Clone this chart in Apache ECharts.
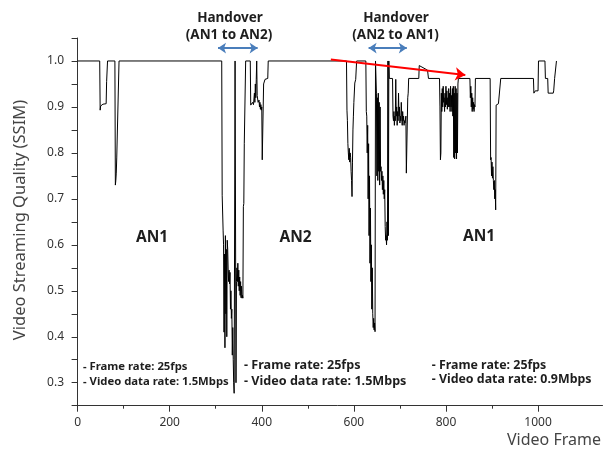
<!DOCTYPE html>
<html><head><meta charset="utf-8">
<script src="https://cdn.jsdelivr.net/npm/echarts@6/dist/echarts.min.js"></script>
<style>html,body{margin:0;padding:0;background:#fff}#c{width:605px;height:450px}</style>
</head><body><div id="c"></div>
<script>
// ---- data: [frame, SSIM] ----
const an1Start = [[0,1.0],[48,1.0],[49,0.893],[50,0.902],[52,0.904],[55,0.906],[58,0.905],[62,0.907],[63,0.955],[64,0.958],[65,1.0],[81,1.0],[82,0.73],[83,0.74],[84,0.756],[85,0.789],[89,0.79],[90,1.0],[313,1.0]];
const handover1 = [[314,0.708],[315,0.705],[316,0.632],[317,0.60],[318,0.41],[319,0.58],[320,0.376],[321,0.62],[322,0.45],[323,0.59],[324,0.40],[325,0.61],[326,0.59],[327,0.545],[328,0.52],[329,0.545],[330,0.515],[331,0.54],[332,0.46],[333,0.50],[334,0.44],[335,0.46],[336,0.36],[337,0.42],[338,0.35],[339,0.30],[340,0.277],[341,0.28],[342,1.0],[343,1.0],[344,0.30],[345,0.52],[346,0.55],[347,0.52],[348,0.56],[349,0.51],[350,0.545],[351,0.50],[352,0.53],[353,0.49],[354,0.52],[355,0.485],[356,0.51],[357,0.484],[358,0.49],[359,0.484],[360,0.683],[361,0.69],[362,0.821],[364,0.825],[365,1.0],[375,1.0],[376,0.904],[378,0.90],[380,0.91],[382,0.905],[384,0.93],[385,0.91],[386,0.95],[387,0.92],[388,0.96],[389,1.0],[390,0.925],[392,0.91],[394,0.915],[395,0.90],[396,0.91],[397,0.895],[398,0.905],[399,0.893],[400,0.90],[401,0.785],[403,0.786],[404,0.95],[406,0.952],[407,0.96],[413,0.962],[414,1.0]];
const an2Steady = [[584,1.0]];
const handover2 = [[585,0.893],[586,0.87],[587,0.82],[588,0.80],[589,0.785],[590,0.81],[591,0.78],[592,0.80],[593,0.79],[594,0.76],[595,0.74],[596,0.705],[597,0.78],[598,0.85],[599,0.88],[600,0.91],[602,0.952],[604,0.96],[606,1.0],[626,1.0],[627,0.89],[628,0.88],[629,0.80],[630,0.86],[631,0.70],[632,0.82],[633,0.62],[634,0.75],[635,0.56],[636,0.68],[637,0.52],[638,0.60],[639,0.46],[640,0.55],[641,0.45],[642,0.42],[643,0.44],[644,0.415],[645,0.43],[646,0.411],[647,1.0],[648,1.0],[649,0.93],[650,0.75],[651,0.92],[652,0.74],[653,0.93],[654,0.76],[655,0.91],[656,0.73],[657,0.90],[658,0.76],[659,0.77],[660,0.74],[661,0.76],[662,0.72],[663,0.75],[664,0.71],[665,0.74],[666,0.70],[667,0.72],[668,0.64],[669,0.61],[670,0.62],[671,0.60],[672,0.65],[673,0.61],[674,1.0],[675,0.62],[676,1.0]];
const an1Mid = [[677,0.962],[684,0.962],[685,0.88],[686,0.87],[687,0.89],[688,0.86],[689,0.88],[690,0.87],[691,0.96],[692,0.88],[693,0.90],[694,0.86],[695,0.89],[696,0.87],[697,0.93],[698,0.88],[699,0.90],[700,0.865],[701,0.88],[702,0.87],[703,0.91],[704,0.88],[705,0.86],[706,0.89],[707,0.87],[708,0.88],[709,0.86],[710,0.87],[711,0.865],[713,0.88],[714,0.756],[716,0.76],[717,0.92],[718,0.93],[719,0.962],[741,0.962],[742,0.99],[745,0.991],[760,0.98],[762,0.962]];
const an1Tail = [[786,0.962],[787,0.90],[788,0.785],[789,0.80],[790,0.93],[791,0.89],[792,0.94],[793,0.90],[794,0.945],[795,0.91],[796,0.92],[797,0.89],[798,0.93],[799,0.90],[800,0.945],[801,0.905],[802,0.935],[803,0.895],[804,0.92],[805,0.90],[806,0.94],[807,0.90],[808,0.93],[809,0.89],[810,0.945],[811,0.90],[812,0.925],[813,0.89],[814,0.94],[815,0.88],[816,0.945],[817,0.79],[818,0.93],[819,0.787],[820,0.945],[821,0.80],[822,0.94],[823,0.787],[824,0.93],[825,0.80],[826,0.95],[827,0.962],[852,0.962],[853,0.92],[854,0.945],[855,0.90],[856,0.93],[857,0.89],[858,0.92],[859,0.895],[860,0.91],[861,0.89],[862,0.905],[863,0.90],[864,0.962],[896,0.962],[897,0.785],[898,0.79],[899,0.75],[900,0.78],[901,0.745],[902,0.77],[903,0.74],[904,0.72],[905,0.74],[906,0.70],[907,0.72],[908,0.676],[909,0.904],[912,0.905],[914,0.907],[918,0.907],[919,0.962],[990,0.962],[991,0.93],[993,0.93],[994,0.935],[1000,0.935],[1001,1.0],[1015,1.0],[1016,0.962],[1021,0.962],[1022,0.93],[1033,0.93],[1034,0.935],[1036,0.962],[1039,0.962],[1040,1.0]];

const xLabelTicks = [0,200,400,600,800,1000];
const xMinorTicks = [100,300,500,700,900];
const yLabelTicks = [0.3,0.4,0.5,0.6,0.7,0.8,0.9,1.0];

// annotation arrows in data coordinates [frame, SSIM]
const handoverArrow1 = [[305,1.028],[391,1.028]];
const handoverArrow2 = [[632,1.028],[715,1.028]];
const qualityArrow = [[550,1.003],[842,0.9695]];

const ssimData = [].concat(an1Start, handover1, an2Steady, handover2, an1Mid, an1Tail);

const chart = echarts.init(document.getElementById('c'), null, {renderer:'canvas'});
const txt = '#1e1e1e';
const axisCol = '#333';
const boldFont = (s) => 'bold ' + s + 'px "Noto Sans", sans-serif';
chart.setOption({
  animation: false,
  backgroundColor: '#fff',
  grid: {left: 73, right: 2.5, top: 38, bottom: 44.3, containLabel: false},
  xAxis: [{
    type: 'value', min: -10, max: 1140,
    axisLine: {show: true, lineStyle: {color: axisCol, width: 1}},
    axisTick: {show: true, length: 6, inside: false, customValues: xLabelTicks, lineStyle: {color: axisCol}},
    axisLabel: {show: true, customValues: xLabelTicks, color: '#333', fontSize: 12, margin: 11, fontFamily: 'Noto Sans',
      formatter: function (v) { return String(Math.round(v)); }},
    splitLine: {show: false}
  }, {
    type: 'value', min: -10, max: 1140, position: 'bottom',
    axisLine: {show: false},
    axisTick: {show: true, length: 3, customValues: xMinorTicks, lineStyle: {color: axisCol}},
    axisLabel: {show: false},
    splitLine: {show: false}
  }],
  yAxis: {
    type: 'value', min: 0.25, max: 1.05, interval: 0.05,
    axisLine: {show: true, lineStyle: {color: axisCol, width: 1}},
    axisTick: {show: true, length: 6, lineStyle: {color: axisCol}},
    axisLabel: {
      color: '#333', fontSize: 12, margin: 9, fontFamily: 'Noto Sans',
      formatter: function (v) {
        for (const t of yLabelTicks) { if (Math.abs(v - t) < 1e-6) return t.toFixed(1); }
        return '';
      }
    },
    splitLine: {show: false}
  },
  series: [{
    type: 'line', xAxisIndex: 0, data: ssimData, showSymbol: false, symbol: 'none',
    lineStyle: {color: '#000', width: 1}, silent: true
  }, {
    type: 'line', xAxisIndex: 0, data: [], silent: true,
    markLine: {
      silent: true, label: {show: false}, animation: false,
      lineStyle: {color: '#4a7ebb', width: 2, type: 'solid'},
      symbol: ['arrow', 'arrow'], symbolSize: 8,
      data: [
        [{coord: handoverArrow1[0]}, {coord: handoverArrow1[1]}],
        [{coord: handoverArrow2[0]}, {coord: handoverArrow2[1]}]
      ]
    }
  }, {
    type: 'line', xAxisIndex: 0, data: [], silent: true,
    markLine: {
      silent: true, label: {show: false}, animation: false,
      lineStyle: {color: '#ff0000', width: 2, type: 'solid'},
      symbol: ['none', 'arrow'], symbolSize: 10,
      data: [[{coord: qualityArrow[0]}, {coord: qualityArrow[1]}]]
    }
  }],
  graphic: [
    {type: 'text', x: 230, y: 18, style: {text: 'Handover', font: boldFont(13.5), fill: txt, textAlign: 'center', textVerticalAlign: 'middle'}},
    {type: 'text', x: 229, y: 35, style: {text: '(AN1 to AN2)', font: boldFont(13.5), fill: txt, textAlign: 'center', textVerticalAlign: 'middle'}},
    {type: 'text', x: 396, y: 18, style: {text: 'Handover', font: boldFont(13.5), fill: txt, textAlign: 'center', textVerticalAlign: 'middle'}},
    {type: 'text', x: 395.5, y: 35, style: {text: '(AN2 to AN1)', font: boldFont(13.5), fill: txt, textAlign: 'center', textVerticalAlign: 'middle'}},
    {type: 'text', x: 152, y: 238, style: {text: 'AN1', font: boldFont(15.5), fill: txt, textAlign: 'center', textVerticalAlign: 'middle'}},
    {type: 'text', x: 295.5, y: 237.5, style: {text: 'AN2', font: boldFont(15.5), fill: txt, textAlign: 'center', textVerticalAlign: 'middle'}},
    {type: 'text', x: 479, y: 236.5, style: {text: 'AN1', font: boldFont(15.5), fill: txt, textAlign: 'center', textVerticalAlign: 'middle'}},
    {type: 'text', x: 83, y: 366.7, style: {text: '- Frame rate: 25fps', font: boldFont(11.3), fill: txt, textAlign: 'left', textVerticalAlign: 'middle'}},
    {type: 'text', x: 83, y: 381.7, style: {text: '- Video data rate: 1.5Mbps', font: boldFont(11.3), fill: txt, textAlign: 'left', textVerticalAlign: 'middle'}},
    {type: 'text', x: 244, y: 365.7, style: {text: '- Frame rate: 25fps', font: boldFont(12.6), fill: txt, textAlign: 'left', textVerticalAlign: 'middle'}},
    {type: 'text', x: 244, y: 381.7, style: {text: '- Video data rate: 1.5Mbps', font: boldFont(12.6), fill: txt, textAlign: 'left', textVerticalAlign: 'middle'}},
    {type: 'text', x: 431.7, y: 365, style: {text: '- Frame rate: 25fps', font: boldFont(12.4), fill: txt, textAlign: 'left', textVerticalAlign: 'middle'}},
    {type: 'text', x: 431.7, y: 379, style: {text: '- Video data rate: 0.9Mbps', font: boldFont(12.4), fill: txt, textAlign: 'left', textVerticalAlign: 'middle'}},
    {type: 'text', x: 20, y: 220, rotation: Math.PI / 2, style: {text: 'Video Streaming Quality (SSIM)', font: '16.5px "Noto Sans", sans-serif', fill: '#444', textAlign: 'center', textVerticalAlign: 'middle'}},
    {type: 'text', x: 601, y: 440, style: {text: 'Video Frame', font: '16px "Noto Sans", sans-serif', fill: '#444', textAlign: 'right', textVerticalAlign: 'middle'}}
  ]
});
</script></body></html>
